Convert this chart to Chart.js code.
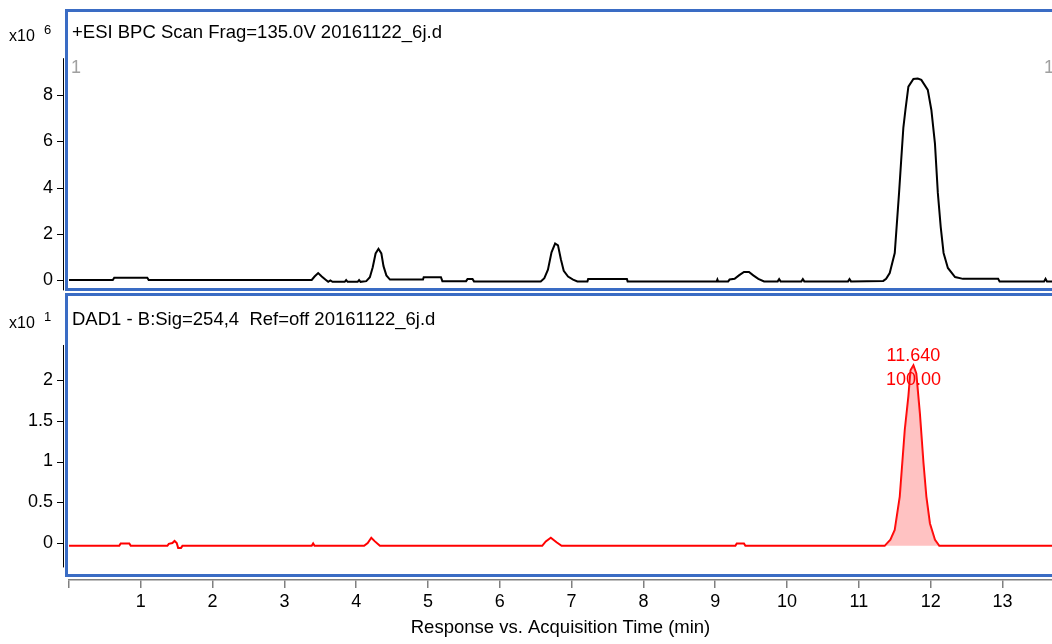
<!DOCTYPE html>
<html>
<head>
<meta charset="utf-8">
<script src="https://cdn.jsdelivr.net/npm/chart.js@4.4.1/dist/chart.umd.min.js"></script>
<style>
  html, body { margin: 0; padding: 0; background: #fff; }
  #wrap { width: 1052px; height: 644px; }
</style>
</head>
<body>
<div id="wrap"><canvas id="chart" width="1052" height="644"></canvas></div>
<script>
// +ESI BPC trace, values in x10^6
const bpcTime = [0.00, 0.61, 0.63, 1.09, 1.11, 3.38, 3.42, 3.47, 3.52, 3.57, 3.61, 3.64, 3.67, 3.84, 3.86, 3.88,
  4.02, 4.04, 4.06, 4.14, 4.19, 4.23, 4.27, 4.31, 4.35, 4.38, 4.42, 4.47, 4.93, 4.94, 5.18, 5.20,
  5.53, 5.55, 5.62, 5.64, 6.57, 6.62, 6.67, 6.72, 6.77, 6.81, 6.85, 6.89, 6.95, 7.02, 7.08, 7.22,
  7.23, 7.77, 7.78, 9.02, 9.03, 9.04, 9.18, 9.20, 9.27, 9.33, 9.40, 9.47, 9.53, 9.60, 9.68, 9.87,
  9.89, 9.91, 10.20, 10.22, 10.24, 10.85, 10.87, 10.89, 11.34, 11.38, 11.43, 11.50, 11.56, 11.59, 11.62, 11.65,
  11.69, 11.76, 11.82, 11.87, 11.96, 12.01, 12.06, 12.10, 12.14, 12.18, 12.24, 12.34, 12.45, 12.94, 12.96, 13.58,
  13.60, 13.62, 13.69];
const bpcValue = [0.00, 0.00, 0.10, 0.10, 0.00, 0.00, 0.15, 0.30, 0.15, 0.02, -0.08, -0.02, -0.08, -0.08, 0.00, -0.08,
  -0.08, 0.00, -0.08, -0.05, 0.12, 0.55, 1.15, 1.35, 1.15, 0.60, 0.20, 0.02, 0.02, 0.12, 0.12, -0.05,
  -0.05, 0.04, 0.04, -0.06, -0.06, 0.08, 0.45, 1.20, 1.58, 1.50, 0.90, 0.40, 0.15, 0.02, -0.06, -0.06,
  0.04, 0.04, -0.06, -0.06, 0.02, -0.06, -0.06, 0.02, 0.05, 0.20, 0.35, 0.35, 0.20, 0.05, -0.06, -0.06,
  0.04, -0.06, -0.06, 0.04, -0.06, -0.06, 0.04, -0.06, -0.04, 0.05, 0.30, 1.17, 3.77, 5.20, 6.60, 7.40,
  8.37, 8.70, 8.72, 8.66, 8.23, 7.36, 5.90, 3.77, 2.30, 1.17, 0.52, 0.13, 0.05, 0.05, -0.06, -0.06,
  0.05, -0.06, -0.06];

// DAD1 254 nm trace, values in x10^1
const dadTime = [0.00, 0.70, 0.72, 0.84, 0.86, 1.37, 1.39, 1.44, 1.47, 1.50, 1.52, 1.56, 1.58, 3.38, 3.40, 3.42,
  4.11, 4.16, 4.21, 4.26, 4.33, 6.59, 6.64, 6.71, 6.79, 6.86, 9.28, 9.30, 9.40, 9.42, 11.36, 11.44,
  11.50, 11.57, 11.64, 11.69, 11.72, 11.76, 11.80, 11.85, 11.90, 11.94, 11.99, 12.06, 12.12, 13.69];
const dadValue = [-0.035, -0.035, -0.005, -0.005, -0.035, -0.035, -0.010, 0.000, 0.025, 0.000, -0.060, -0.060, -0.035, -0.035, -0.005, -0.035,
  -0.035, 0.000, 0.065, 0.020, -0.035, -0.035, 0.020, 0.065, 0.010, -0.035, -0.035, -0.005, -0.005, -0.035, -0.035, 0.040,
  0.160, 0.570, 1.390, 1.800, 2.120, 2.180, 2.080, 1.590, 0.980, 0.570, 0.240, 0.040, -0.035, -0.035];
const dadBaseline = -0.035;

const xTickValues = [0, 1, 2, 3, 4, 5, 6, 7, 8, 9, 10, 11, 12, 13];
const bpcTicks = [0, 2, 4, 6, 8];
const dadTicks = [0, 0.5, 1, 1.5, 2];
const peakLabel = ['11.640', '100.00'];
const panelTitles = ['+ESI BPC Scan Frag=135.0V 20161122_6j.d', 'DAD1 - B:Sig=254,4  Ref=off 20161122_6j.d'];
const panelExponents = ['6', '1'];
const xTitle = 'Response vs. Acquisition Time (min)';

const FONT = "'Liberation Sans', Arial, sans-serif";

const toPoints = (xs, ys) => xs.map((t, i) => ({ x: t, y: ys[i] }));
const peakIdx = dadValue.indexOf(Math.max(...dadValue));
const fillPoints = toPoints(dadTime, dadValue).filter(p => p.x >= 11.36 && p.x <= 12.12);

// drop the label half-height padding chart.js reserves at scale ends
const noPad = s => { s.paddingTop = 0; s.paddingBottom = 0; s.paddingLeft = 0; s.paddingRight = 0; };

const framePlugin = {
  id: 'frame',
  afterDraw(chart) {
    const ctx = chart.ctx;
    const xs = chart.scales.x, top = chart.scales.yTop, bot = chart.scales.yBot;
    ctx.save();

    // y axis lines with tick marks
    ctx.strokeStyle = '#000';
    ctx.lineWidth = 1;
    [[top, 9.6, -0.45, bpcTicks], [bot, 2.43, -0.3, dadTicks]].forEach(([s, hi, lo, ticks]) => {
      ctx.beginPath();
      ctx.moveTo(63.5, s.getPixelForValue(hi));
      ctx.lineTo(63.5, s.getPixelForValue(lo));
      ticks.forEach(v => {
        const y = Math.round(s.getPixelForValue(v)) + 0.5;
        ctx.moveTo(57, y);
        ctx.lineTo(63.5, y);
      });
      ctx.stroke();
    });

    // blue panel frames
    ctx.strokeStyle = '#3a6cc4';
    ctx.lineWidth = 3;
    ctx.strokeRect(66.5, top.top + 1.5, 1100, top.bottom - top.top - 4);
    ctx.strokeRect(66.5, bot.top + 2.5, 1100, bot.bottom - bot.top - 7);

    // panel titles and exponents
    ctx.fillStyle = '#000';
    ctx.textBaseline = 'middle';
    ctx.textAlign = 'left';
    [top, bot].forEach((s, i) => {
      ctx.font = '18.5px ' + FONT;
      ctx.fillText(panelTitles[i], 72, s.top + (i ? 28 : 24));
      ctx.font = '16px ' + FONT;
      ctx.fillText('x10', 9, s.top + (i ? 32 : 28));
      ctx.font = '13px ' + FONT;
      ctx.fillText(panelExponents[i], 44, s.top + (i ? 25 : 21));
    });

    // gray "1" markers on the MS panel
    ctx.fillStyle = '#a0a0a0';
    ctx.font = '18px ' + FONT;
    ctx.fillText('1', 71, top.top + 59);
    ctx.fillText('1', 1044, top.top + 59);

    // peak annotation
    const px = xs.getPixelForValue(dadTime[peakIdx]);
    const py = bot.getPixelForValue(dadValue[peakIdx]);
    ctx.fillStyle = '#ff0000';
    ctx.textAlign = 'center';
    ctx.fillText(peakLabel[0], px, py - 9);
    ctx.fillText(peakLabel[1], px, py + 15);
    ctx.restore();
  }
};

const yTicks = { color: '#000', padding: 16, font: { family: FONT, size: 18 }, callback: v => String(v) };

new Chart(document.getElementById('chart'), {
  type: 'scatter',
  data: {
    datasets: [
      {
        data: toPoints(bpcTime, bpcValue),
        yAxisID: 'yTop',
        showLine: true,
        borderColor: '#000',
        borderWidth: 2,
        pointRadius: 0,
        tension: 0
      },
      {
        data: fillPoints,
        yAxisID: 'yBot',
        showLine: true,
        borderWidth: 0,
        borderColor: 'rgba(0,0,0,0)',
        backgroundColor: 'rgba(255,80,80,0.35)',
        fill: { value: dadBaseline },
        pointRadius: 0
      },
      {
        data: toPoints(dadTime, dadValue),
        yAxisID: 'yBot',
        showLine: true,
        borderColor: '#ff0000',
        borderWidth: 2,
        pointRadius: 0,
        tension: 0
      }
    ]
  },
  options: {
    responsive: false,
    animation: false,
    devicePixelRatio: 1,
    layout: { padding: { top: 9, right: 0, left: 0, bottom: 0 } },
    plugins: { legend: { display: false }, tooltip: { enabled: false } },
    scales: {
      x: {
        type: 'linear',
        min: 0,
        max: 13.69,
        afterBuildTicks: s => { s.ticks = xTickValues.map(v => ({ value: v })); },
        afterFit: s => { s.height = 64; noPad(s); },
        grid: { drawOnChartArea: false, color: '#808080', tickLength: 8, lineWidth: 1.5 },
        border: { color: '#808080', width: 1.5 },
        ticks: {
          autoSkip: false,
          maxRotation: 0,
          color: '#000',
          padding: 3,
          font: { family: FONT, size: 18 },
          callback: v => (v === 0 ? '' : String(v))
        },
        title: {
          display: true,
          text: xTitle,
          color: '#000',
          font: { family: FONT, size: 18.5 },
          padding: { top: 0, bottom: 5 }
        }
      },
      yBot: {
        type: 'linear',
        position: 'left',
        stack: 'panels',
        stackWeight: 288,
        min: -0.454,
        max: 3.08,
        afterBuildTicks: s => { s.ticks = dadTicks.map(v => ({ value: v })); },
        afterFit: s => { s.width = 69; noPad(s); },
        grid: { display: false, drawTicks: false },
        border: { display: false },
        ticks: yTicks
      },
      yTop: {
        type: 'linear',
        position: 'left',
        stack: 'panels',
        stackWeight: 283,
        min: -0.519,
        max: 11.73,
        afterBuildTicks: s => { s.ticks = bpcTicks.map(v => ({ value: v })); },
        afterFit: s => { s.width = 69; noPad(s); },
        grid: { display: false, drawTicks: false },
        border: { display: false },
        ticks: yTicks
      }
    }
  },
  plugins: [framePlugin]
});
</script>
</body>
</html>
